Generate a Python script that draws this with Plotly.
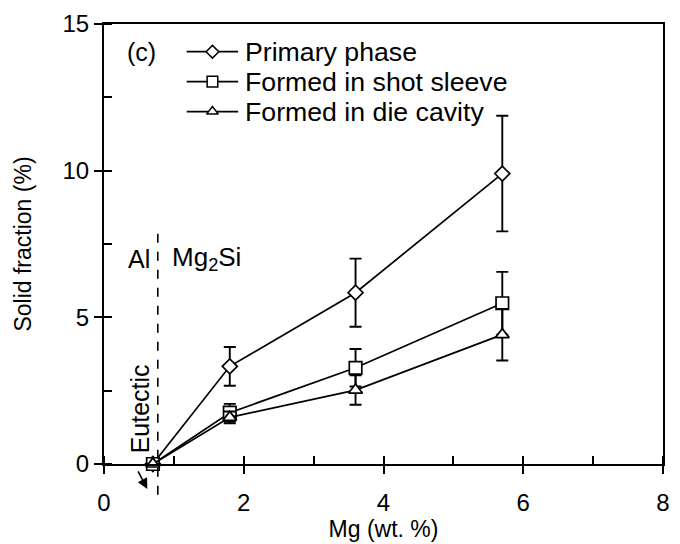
import plotly.graph_objects as go

# Data
mg = [0.7, 1.8, 3.6, 5.7]
primary = [0.0, 3.33, 5.84, 9.90]
primary_err = [0.0, 0.66, 1.16, 1.97]
sleeve = [0.0, 1.75, 3.28, 5.48]
sleeve_err = [0.0, 0.30, 0.64, 1.07]
cavity = [0.0, 1.59, 2.52, 4.41]
cavity_err = [0.0, 0.20, 0.50, 0.88]
series_names = ["Primary phase", "Formed in shot sleeve", "Formed in die cavity"]
x_ticks = [0, 2, 4, 6, 8]
y_ticks = [0, 5, 10, 15]
eutectic_mg = 0.77
x_range = [0, 8]
y_range = [0, 15]

FONT = "Liberation Sans, Arial, sans-serif"

series = [
    (series_names[0], primary, primary_err, "diamond", 11.5),
    (series_names[1], sleeve, sleeve_err, "square", 12.5),
    (series_names[2], cavity, cavity_err, "triangle-up", 12),
]

fig = go.Figure()
for i, (name, ys, errs, sym, size) in enumerate(series):
    fig.add_trace(go.Scatter(
        x=mg, y=ys, name=name, mode="lines+markers", showlegend=False,
        line=dict(color="black", width=1.7),
        marker=dict(symbol=sym, size=size, color="white",
                    line=dict(color="black", width=1.7)),
        error_y=dict(type="data", array=errs, visible=True,
                     color="black", thickness=1.9, width=6),
        cliponaxis=False,
    ))

# Hand-drawn legend (layout positions in an overlay 0..1 frame)
leg_rows = [0.937, 0.869, 0.801]
leg_x0, leg_xm, leg_x1, leg_text_x = 0.148, 0.194, 0.240, 0.249
for (name, ys, errs, sym, size), ry in zip(series, leg_rows):
    fig.add_trace(go.Scatter(
        x=[leg_x0, leg_x1], y=[ry, ry], xaxis="x2", yaxis="y2",
        mode="lines", line=dict(color="black", width=1.7),
        showlegend=False, hoverinfo="skip", cliponaxis=False))
    fig.add_trace(go.Scatter(
        x=[leg_xm], y=[ry], xaxis="x2", yaxis="y2", mode="markers",
        marker=dict(symbol=sym, size=size * 0.85, color="white",
                    line=dict(color="black", width=1.5)),
        showlegend=False, hoverinfo="skip", cliponaxis=False))
    fig.add_annotation(x=leg_text_x, y=ry, xref="x2", yref="y2", text=name,
                       showarrow=False, xanchor="left", yanchor="middle",
                       font=dict(size=26.7))

# Panel label on the same row as the first legend entry
fig.add_annotation(x=0.067, y=leg_rows[0], xref="x2", yref="y2",
                   text="(c)", showarrow=False, xanchor="center", yanchor="middle",
                   font=dict(size=25))

fig.update_layout(
    width=680, height=544,
    margin=dict(l=104, r=10, t=22, b=80),
    paper_bgcolor="white", plot_bgcolor="white",
    font=dict(family=FONT, size=23, color="black"),
    showlegend=False,
    xaxis=dict(range=x_range, tickvals=x_ticks, showgrid=False, zeroline=False,
               showline=True, linecolor="black", linewidth=2, mirror=True,
               ticks="outside", ticklen=8, tickwidth=2, tickcolor="black",
               minor=dict(ticks="inside", ticklen=8, tickwidth=1.5, tickcolor="black",
                          dtick=1, showgrid=False),
               tickfont=dict(size=24), ticklabelstandoff=8,
               title=dict(text="Mg (wt. %)", font=dict(size=23), standoff=0)),
    yaxis=dict(range=y_range, tickvals=y_ticks, showgrid=False, zeroline=False,
               showline=True, linecolor="black", linewidth=2, mirror=True,
               ticks="outside", ticklen=8, tickwidth=2, tickcolor="black",
               minor=dict(ticks="inside", ticklen=8, tickwidth=1.5, tickcolor="black",
                          dtick=2.5, showgrid=False),
               tickfont=dict(size=24),
               title=dict(text="Solid fraction (%)", font=dict(size=23), standoff=24)),
    xaxis2=dict(range=[0, 1], overlaying="x", visible=False, anchor="y2"),
    yaxis2=dict(range=[0, 1], overlaying="y", visible=False, anchor="x2"),
)

# Eutectic dashed line (extends slightly below the x axis)
ex = (eutectic_mg - x_range[0]) / (x_range[1] - x_range[0])
fig.add_shape(type="line", xref="paper", yref="paper",
              x0=ex, x1=ex, y0=-1.05 / 15, y1=7.9 / 15,
              line=dict(color="black", width=1.6, dash="dash"))

fig.add_annotation(x=eutectic_mg - 0.08, y=7.0 / 15, xref="x", yref="paper",
                   text="Al", showarrow=False, xanchor="right", font=dict(size=25))
fig.add_annotation(x=eutectic_mg + 0.17, y=7.0 / 15, xref="x", yref="paper",
                   text="Mg<sub>2</sub>Si", showarrow=False, xanchor="left", font=dict(size=26))
fig.add_annotation(x=0.51, y=0.3 / 15, xref="x", yref="paper",
                   text="Eutectic", textangle=-90, showarrow=False,
                   yanchor="bottom", font=dict(size=25))
fig.add_annotation(x=0.62, y=-0.85 / 15, xref="x", yref="paper",
                   text="", showarrow=True, ax=-10, ay=-19,
                   arrowhead=2, arrowsize=1.3, arrowwidth=1.6, arrowcolor="black")

fig.write_html("out.html")
